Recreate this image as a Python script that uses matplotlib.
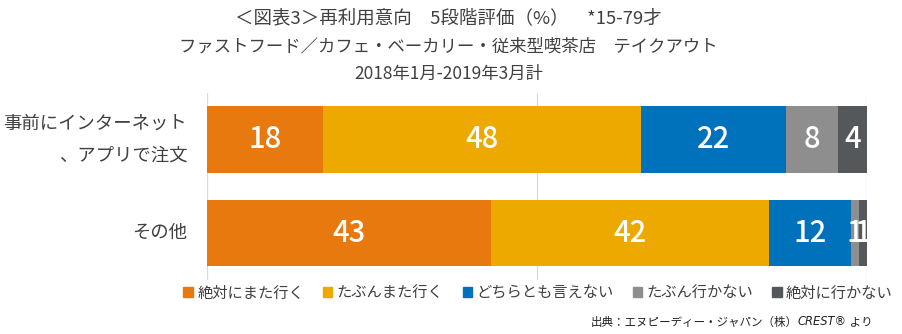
import matplotlib
matplotlib.use("Agg")
import matplotlib.pyplot as plt
from matplotlib.patches import Rectangle
import numpy as np

plt.rcParams['font.family'] = ['Noto Sans CJK JP', 'DejaVu Sans']

categories = ["事前にインターネット\n、アプリで注文", "その他"]
series_names = ["絶対にまた行く", "たぶんまた行く", "どちらとも言えない", "たぶん行かない", "絶対に行かない"]
row1 = [17.6, 48.2, 21.9, 7.9, 4.4]
row2 = [43.0, 42.2, 12.4, 1.2, 1.2]
labels1 = ["18", "48", "22", "8", "4"]
labels2 = ["43", "42", "12", "1", "1"]
colors = ["#E8790E", "#EDA900", "#0072BB", "#8E8E8E", "#55585B"]

title_lines = ["＜図表3＞再利用意向　5段階評価（%）　*15-79才",
               "ファストフード／カフェ・ベーカリー・従来型喫茶店　テイクアウト",
               "2018年1月-2019年3月計"]

fig = plt.figure(figsize=(9.03, 3.34), dpi=100)
ax = fig.add_axes([0.229, 0.1624, 0.731, 0.5599])

data = np.array([row1, row2])
labs = [labels1, labels2]
y = np.arange(len(categories))
left = np.zeros(len(categories))
for j in range(data.shape[1]):
    vals = data[:, j]
    ax.barh(y, vals, left=left, height=0.71, color=colors[j], zorder=3)
    for i in range(len(categories)):
        ax.text(left[i] + vals[i] / 2, y[i], labs[i][j], ha='center', va='center',
                color='white', fontsize=21, weight='medium', zorder=4)
    left = left + vals

ax.set_xlim(0, 100)
ax.set_ylim(1.5, -0.5)
ax.set_xticks([0, 50, 100])
ax.set_xticklabels([])
ax.tick_params(axis='x', length=0)
ax.tick_params(axis='y', length=0, pad=14)
ax.grid(axis='x', color='#D9D9D9', linewidth=0.9, zorder=0)
for s in ax.spines.values():
    s.set_visible(False)
ax.set_yticks(y)
ax.set_yticklabels(categories, fontsize=13.2, color='#404040', linespacing=2.05, ha='right', va='center')
ax.get_yticklabels()[0].set_y(-0.04)

ys = [0.946, 0.860, 0.780]
sizes = [13.3, 12.5, 12.5]
for t, yy, fs in zip(title_lines, ys, sizes):
    fig.text(0.497, yy, t, ha='center', va='center', fontsize=fs, color='#404040')

handles = [Rectangle((0, 0), 1, 1, color=c) for c in colors]
fig.legend(handles, series_names, loc='center', bbox_to_anchor=(0.596, 0.123), ncol=5,
           frameon=False, fontsize=11, handlelength=0.6, handleheight=0.6,
           handletextpad=0.3, columnspacing=1.25, labelcolor='#404040')

t3 = fig.text(0.966, 0.036, " より", ha='right', va='center', fontsize=8.3, color='#222222')
t2 = ax.annotate("CREST®", xy=(0, 0.5), xycoords=t3, ha='right', va='center', fontsize=8.3,
                 color='#222222', family='DejaVu Sans', style='italic', annotation_clip=False)
t1 = ax.annotate("出典：エヌピーディー・ジャパン（株）", xy=(0, 0.5), xycoords=t2, ha='right', va='center',
                 fontsize=8.3, color='#222222', annotation_clip=False)

fig.savefig("out.png", dpi=100)
